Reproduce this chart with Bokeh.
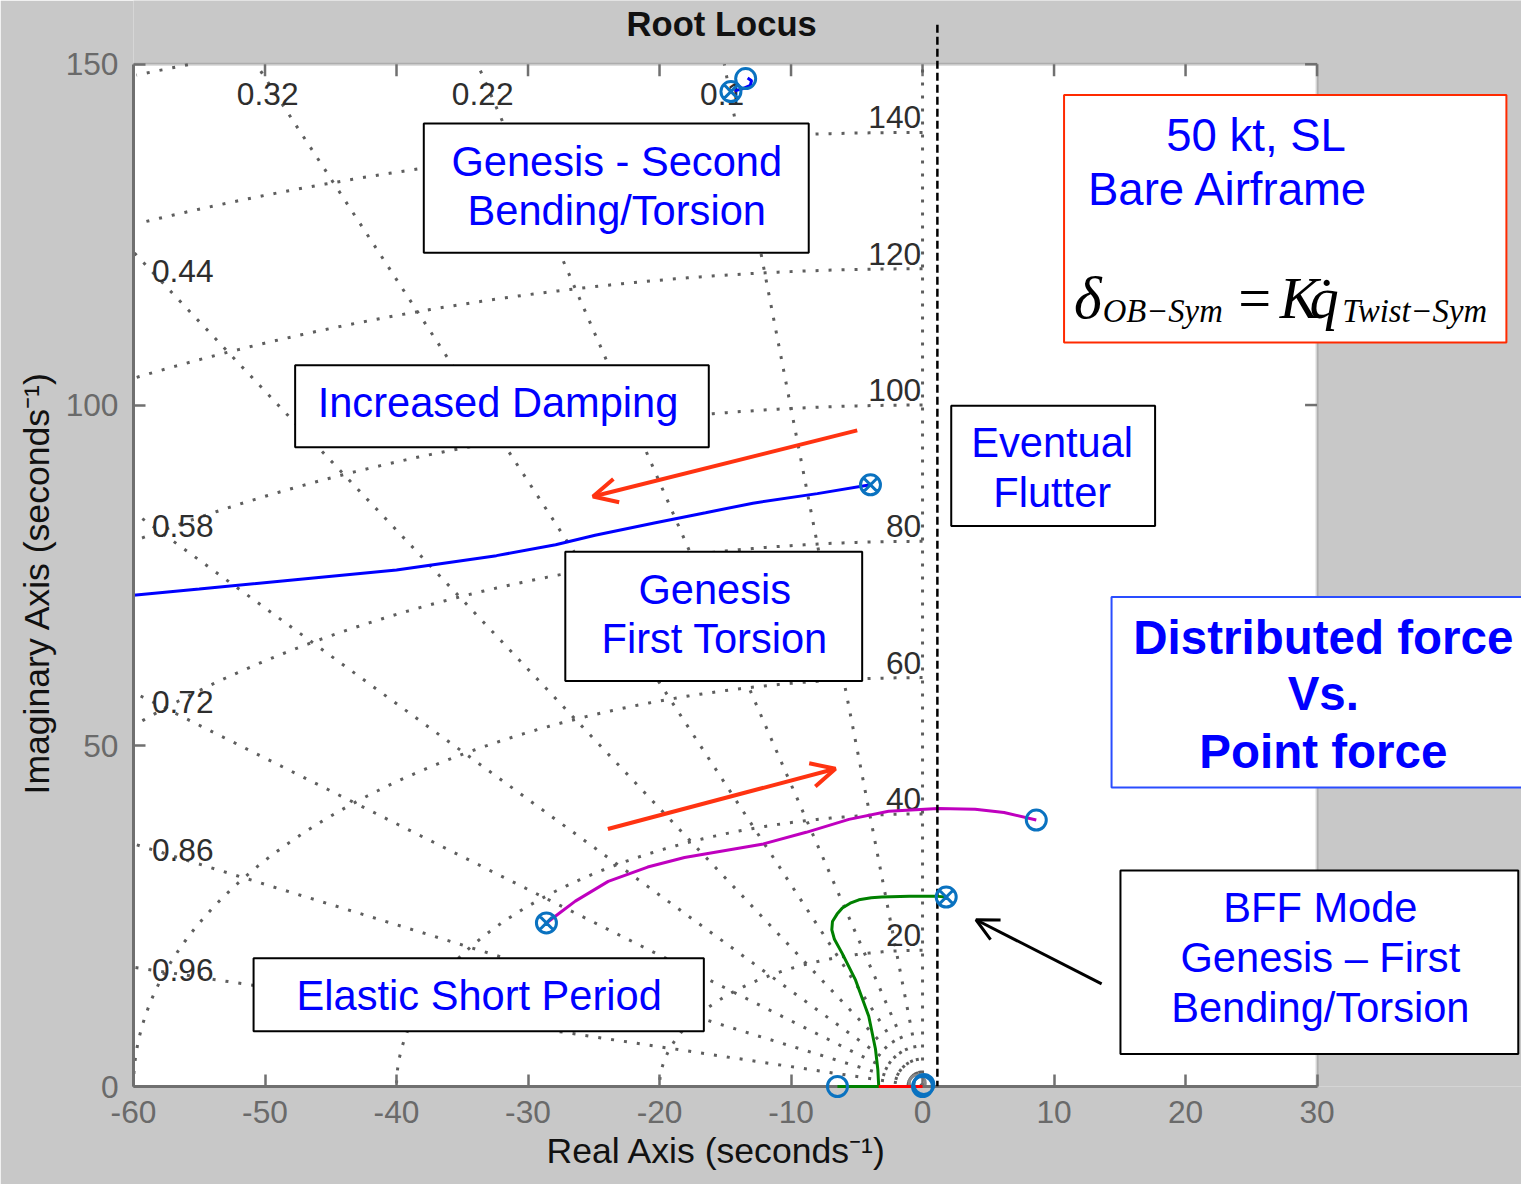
import numpy as np
from bokeh.plotting import figure
from bokeh.models import (Range1d, BoxAnnotation, Label, Arrow, OpenHead, FixedTicker, Title)
from bokeh.core.properties import value
from bokeh.embed import file_html
from bokeh.resources import INLINE

# ---------------- data ----------------
x_ticks = [-60, -50, -40, -30, -20, -10, 0, 10, 20, 30]
y_ticks = [0, 50, 100, 150]

zeta_vals = [0.1, 0.22, 0.32, 0.44, 0.58, 0.72, 0.86, 0.96]
wn_vals = [20, 40, 60, 80, 100, 120, 140, 160]

# root-locus branches (real part, imaginary part)
blue_re = [-3.96, -8.0, -12.9, -16.5, -20.4, -24.9, -27.9, -32.4, -40.0, -47.5, -55.0, -60.0]
blue_im = [88.3, 87.0, 85.6, 84.2, 82.7, 80.9, 79.5, 77.9, 75.8, 74.4, 73.0, 72.1]

magenta_re = [-28.6, -27.5, -26.4, -23.9, -20.9, -18.1, -15.1, -12.1, -8.85, -5.6, -2.58, 1.18, 4.0, 6.2, 8.65]
magenta_im = [24.0, 25.6, 27.2, 30.1, 32.2, 33.6, 34.6, 35.6, 37.3, 39.2, 40.4, 40.8, 40.7, 40.2, 39.1]

green_re = [-6.47, -3.33, -3.4, -3.58, -4.09, -5.09, -6.1, -6.7, -6.9, -6.85, -6.5, -6.1, -5.5, -4.84, -3.9, -3.1, -1.0, 1.18, 1.8]
green_im = [0.0, 0.0, 2.5, 5.5, 10.3, 15.6, 19.5, 21.6, 23.0, 24.2, 25.3, 26.2, 26.9, 27.4, 27.7, 27.8, 27.9, 27.9, 27.8]

red_re = [-3.33, 0.0]
red_im = [0.0, 0.0]

top_re = [-14.3, -13.7, -13.1, -13.0, -13.3]
top_im = [146.1, 146.4, 146.9, 147.6, 148.0]

# markers
cross_re = [-3.96, -14.57, 1.8, -28.6]
cross_im = [88.3, 146.0, 27.8, 24.0]
ring_re = [-13.45, -6.47, 8.65, 0.0, 0.1]
ring_im = [147.9, 0.0, 39.1, 0.0, 0.3]
gray_re = [-0.4]
gray_im = [0.5]

# ------------- geometry -------------
W, H = 1521, 1184
SX, SY = W / 1537.0, H / 1200.0          # page scale relative to the reference picture
PXU_X, PXU_Y = 13.289 * SX, 6.9067 * SY  # pixels per data unit in this figure
FL = 133                                 # frame left (x = -60)
FB = 1086                                # frame bottom (y = 0)
X_END = -60 + (W - FL) / PXU_X
Y_END = FB / PXU_Y
FS = 0.99                                # font scale


def dx(px):
    """reference-picture pixel column -> real axis value"""
    return (px - 931.0) / 13.289


def dy(py):
    """reference-picture pixel row -> imaginary axis value"""
    return (1101.0 - py) / 6.9067


def fsz(v):
    return f"{v * FS:.1f}px"


FONT = "Liberation Sans"
SERIF = "Liberation Serif"
GRID_C = "#5e5e5e"
AX_C = "#707070"
BG = "#c8c8c8"

p = figure(width=W, height=H, x_range=Range1d(-60, X_END), y_range=Range1d(0, Y_END),
           output_backend="svg", toolbar_location=None,
           min_border_left=FL, min_border_right=0, min_border_top=0,
           min_border_bottom=H - FB)
p.background_fill_color = BG
p.border_fill_color = BG
p.outline_line_color = None
p.xgrid.visible = False
p.ygrid.visible = False

p.xaxis.ticker = FixedTicker(ticks=x_ticks)
p.yaxis.ticker = FixedTicker(ticks=y_ticks)
p.xaxis.major_label_overrides = {t: str(t) for t in x_ticks}
p.yaxis.major_label_overrides = {t: str(t) for t in y_ticks}
p.xaxis.bounds = (x_ticks[0], x_ticks[-1])
p.yaxis.bounds = (y_ticks[0], y_ticks[-1])
for ax in (p.xaxis[0], p.yaxis[0]):
    ax.major_tick_in = 12
    ax.major_tick_out = 0
    ax.minor_tick_in = 0
    ax.minor_tick_out = 0
    ax.axis_line_color = AX_C
    ax.axis_line_width = 3
    ax.major_tick_line_color = AX_C
    ax.major_tick_line_width = 2.5
    ax.major_label_text_font = FONT
    ax.major_label_text_font_size = fsz(32)
    ax.major_label_text_color = "#6a6a6a"
p.xaxis.major_label_standoff = 14
p.yaxis.major_label_standoff = 15

# axis titles, placed along the plotting box (not the whole frame)
p.add_layout(Title(text="Real Axis (seconds\u207b\u00b9)", align="left", offset=413,
                   standoff=6, text_font=FONT, text_font_size=fsz(36),
                   text_font_style="normal", text_color="#111111"), "below")
p.add_layout(Title(text="Imaginary Axis (seconds\u207b\u00b9)", align="left", offset=292,
                   standoff=12, text_font=FONT, text_font_size=fsz(36),
                   text_font_style="normal", text_color="#111111"), "left")

# white plotting area with its box
p.add_layout(BoxAnnotation(left=x_ticks[0], right=x_ticks[-1], bottom=y_ticks[0], top=y_ticks[-1],
                           fill_color="white", fill_alpha=1.0, line_color=AX_C,
                           line_width=3, level="underlay"))

# inward ticks on the top and right sides of the box
p.segment(x0=x_ticks, y0=[y_ticks[-1]] * len(x_ticks), x1=x_ticks,
          y1=[y_ticks[-1] - 12 / PXU_Y] * len(x_ticks), line_color=AX_C, line_width=2.5)
p.segment(x0=[x_ticks[-1]] * len(y_ticks), y0=y_ticks, x1=[x_ticks[-1] - 12 / PXU_X] * len(y_ticks),
          y1=y_ticks, line_color=AX_C, line_width=2.5)

# ------------- s-plane grid (damping lines and natural-frequency arcs) -------------
XMIN, YMAX = x_ticks[0], y_ticks[-1]
gx, gy = [], []
for z in [0.0] + zeta_vals + [1.0]:
    s = np.sqrt(1 - z * z)
    t = min(-XMIN / z if z > 0 else 1e9, YMAX / s if s > 0 else 1e9)
    gx.append([0.0, -t * z])
    gy.append([0.0, t * s])
th = np.linspace(np.pi / 2, np.pi, 600)
for w in wn_vals:
    ax_, ay_ = w * np.cos(th), w * np.sin(th)
    keep = (ax_ >= XMIN) & (ay_ <= YMAX)
    if keep.sum() > 1:
        gx.append(list(ax_[keep]))
        gy.append(list(ay_[keep]))
p.multi_line(gx, gy, line_color=GRID_C, line_width=3, line_dash="3 10")

lx, ly, lt = [], [], []
tx, ty, tt = [], [], []
for z in zeta_vals:
    r = np.sqrt(1 - z * z) / z
    if -XMIN * r <= YMAX:
        lx.append(XMIN + 1.4); ly.append((-XMIN - 1.4) * r); lt.append(f"{z:g}")
    else:
        tx.append(-(YMAX - 4.35) / r - 0.6); ty.append(YMAX - 4.35); tt.append(f"{z:g}")
p.text(lx, ly, text=lt, text_font=value(FONT), text_font_size=value(fsz(32)),
       text_color="#2e2e2e", text_align="left", text_baseline="middle")
p.text(tx, ty, text=tt, text_font=value(FONT), text_font_size=value(fsz(32)),
       text_color="#2e2e2e", text_align="center", text_baseline="middle")
wl = [w for w in wn_vals if w <= 140]
p.text([-0.1] * len(wl), [w + 2.2 for w in wl], text=[str(w) for w in wl],
       text_font=value(FONT), text_font_size=value(fsz(32)), text_color="#2e2e2e",
       text_align="right", text_baseline="middle")

# ------------- locus branches -------------
p.line(blue_re, blue_im, line_color="#0000ff", line_width=3)
p.line(magenta_re, magenta_im, line_color="#bf00bf", line_width=3)
p.line(green_re, green_im, line_color="#008000", line_width=3, level="overlay")
p.line(red_re, red_im, line_color="#ff0000", line_width=3, level="overlay")
p.line(top_re, top_im, line_color="#0000ff", line_width=3)

p.scatter(cross_re, cross_im, marker="circle_x", size=20, fill_color=None,
          line_color="#0a72c0", line_width=3, level="overlay")
p.scatter(ring_re, ring_im, marker="circle", size=20, fill_color=None,
          line_color="#0a72c0", line_width=3, level="overlay")
p.scatter(gray_re, gray_im, marker="circle", size=16, fill_color=None,
          line_color="#888888", line_width=3)

# ------------- arrows and the dashed stability line -------------
RED = "#ff3311"
p.add_layout(Arrow(x_start=dx(865), y_start=dy(436), x_end=dx(598), y_end=dy(503),
                   line_color=RED, line_width=4,
                   end=OpenHead(size=24, line_color=RED, line_width=4)))
p.add_layout(Arrow(x_start=dx(613), y_start=dy(840), x_end=dx(843), y_end=dy(779),
                   line_color=RED, line_width=4,
                   end=OpenHead(size=24, line_color=RED, line_width=4)))
p.add_layout(Arrow(x_start=dx(1112), y_start=dy(997), x_end=dx(985), y_end=dy(932),
                   line_color="black", line_width=3,
                   end=OpenHead(size=22, line_color="black", line_width=3)))
p.add_layout(Arrow(x_start=dx(946), y_start=dy(25), x_end=dx(946), y_end=0,
                   line_color="black", line_width=2.5, line_dash="8 4", end=None))

# ------------- title -------------
p.add_layout(Label(x=dx(728), y=dy(24), text="Root Locus", text_align="center",
                   text_baseline="middle", text_font=FONT, text_font_size=fsz(35),
                   text_font_style="bold", text_color="#111111"))

# ------------- annotation boxes -------------
boxes = [
    (427, 816, 125, 256, "black", 2),
    (297, 715, 370, 453, "black", 2),
    (570, 870, 559, 690, "black", 2),
    (960, 1166, 411, 533, "black", 2),
    (255, 710, 971, 1045, "black", 2),
    (1131, 1533, 882, 1068, "black", 2),
    (1074, 1521, 96, 347, "#ff2a00", 2),
    (1122, 1560, 605, 798, "#2a4dff", 2),
]
for l, r, t, b, c, w in boxes:
    p.add_layout(BoxAnnotation(left=dx(l), right=dx(r), top=dy(t), bottom=dy(b),
                               fill_color="white", fill_alpha=1.0,
                               line_color=c, line_width=w, line_alpha=1.0))

texts = [
    ("Genesis - Second", 622, 163, 42, "normal"),
    ("Bending/Torsion", 622, 213, 42, "normal"),
    ("Increased Damping", 502, 408, 42, "normal"),
    ("Genesis", 721, 597, 42, "normal"),
    ("First Torsion", 721, 647, 42, "normal"),
    ("Eventual", 1062, 448, 42, "normal"),
    ("Flutter", 1062, 499, 42, "normal"),
    ("Elastic Short Period", 483, 1009, 42, "normal"),
    ("BFF Mode", 1333, 920, 42, "normal"),
    ("Genesis \u2013 First", 1333, 970, 42, "normal"),
    ("Bending/Torsion", 1333, 1021, 42, "normal"),
    ("50 kt, SL", 1268, 137, 46, "normal"),
    ("Bare Airframe", 1240, 192, 46, "normal"),
    ("Distributed force", 1336, 646, 48, "bold"),
    ("Vs.", 1336, 703, 48, "bold"),
    ("Point force", 1336, 761, 48, "bold"),
]
for s, cx, cy, fs, st in texts:
    p.add_layout(Label(x=dx(cx), y=dy(cy), text=s, text_align="center",
                       text_baseline="middle", text_font=FONT,
                       text_font_size=fsz(fs), text_font_style=st,
                       text_color="#0000ff"))

# formula  delta_{OB-Sym} = K qdot_{Twist-Sym}
formula = [
    ("\u03b4", 1084, 302, 60, "italic"),
    ("OB\u2212Sym", 1113, 315, 33, "italic"),
    ("=", 1250, 302, 59, "normal"),
    ("K", 1292, 302, 59, "italic"),
    ("q\u0307", 1322, 302, 59, "italic"),
    ("Twist\u2212Sym", 1355, 315, 33, "italic"),
]
for s, lx_, by, fs, st in formula:
    p.add_layout(Label(x=dx(lx_), y=dy(by), text=s, text_align="left",
                       text_baseline="alphabetic", text_font=SERIF,
                       text_font_size=fsz(fs), text_font_style=st,
                       text_color="black"))

open("out.html", "w").write(file_html(p, INLINE))
